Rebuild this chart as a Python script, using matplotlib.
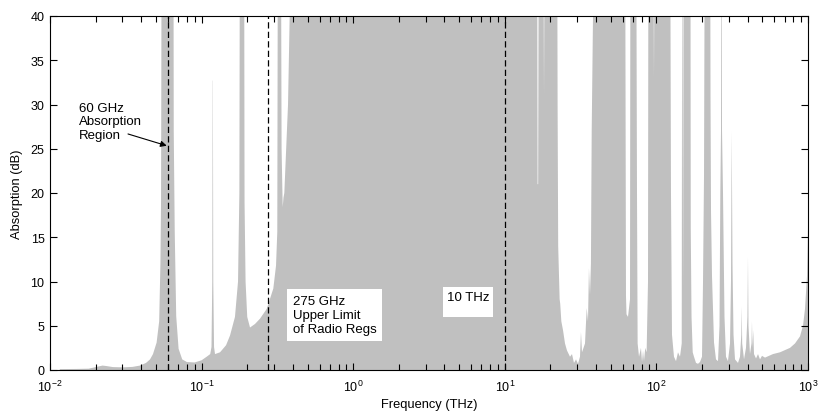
import numpy as np
import matplotlib
matplotlib.use("Agg")
import matplotlib.pyplot as plt

# ---------------- data (frequency in THz, absorption in dB; 60 = off-scale) ----------------
mmwave_freq = [0.0116, 0.015, 0.018, 0.0203, 0.0222, 0.0235, 0.026, 0.0303, 0.035, 0.0392,
               0.043, 0.0457, 0.0478, 0.0505, 0.0525, 0.0535, 0.054, 0.0542, 0.0546,
               0.0651, 0.0655, 0.0665, 0.068, 0.0705, 0.0745, 0.080, 0.090, 0.100, 0.108,
               0.114, 0.1162, 0.1176, 0.1183, 0.1187, 0.1194, 0.1208, 0.1226, 0.1323, 0.145, 0.154,
               0.166, 0.1739, 0.1775, 0.1792, 0.1905, 0.192, 0.195, 0.200, 0.2086, 0.225,
               0.2428, 0.2688, 0.2972, 0.3097, 0.3157, 0.3192, 0.3326, 0.337, 0.3428, 0.347,
               0.3513, 0.3716, 0.4009]
mmwave_db = [0.1, 0.12, 0.15, 0.35, 0.5, 0.45, 0.33, 0.3, 0.35, 0.5,
             0.8, 1.2, 1.8, 3.1, 5.5, 12, 19, 30, 60,
             60, 27, 15.6, 6.1, 2.4, 1.2, 0.9, 0.85, 1.1, 1.5,
             1.8, 2.6, 10, 32.7, 32.7, 10, 2.6, 1.8, 2.0, 2.8, 3.9,
             6.0, 10, 20, 60, 60, 19, 10, 6.0, 4.8, 5.2,
             5.8, 6.9, 9.2, 11.8, 15.6, 60, 60, 25, 18.4, 19.5,
             20, 30, 60]

ir_freq = [16.2, 16.31, 16.45, 16.6, 16.8, 17.9, 18.14, 18.4,
           21.76, 22.10, 22.3, 22.5, 23.0, 23.2, 23.6, 24.21, 24.95, 25.72, 26.92, 27.75,
           28.6, 29.5, 30.4, 31.33, 31.8, 32.3, 33.81, 34.7, 35.38, 35.9, 36.48, 37.0,
           37.43, 38.18, 38.8]
ir_db = [60, 60, 21, 21, 60, 60, 31, 60,
         60, 60, 30, 14, 8, 7.5, 5.5, 4.5, 3.0, 2.2, 1.5, 1.8,
         0.8, 1.2, 0.7, 1.5, 4.3, 2.0, 3.0, 7.0, 5.5, 11.5, 8.5, 12,
         27, 40, 60]

fir_freq = [62.07, 63.0, 63.5, 64.96, 66.98, 67.5, 73.36, 74.48, 75.2, 76.8, 79.1, 80.4,
            81.6, 82.84, 84.4, 86.2, 88.03, 88.7, 94.97, 96.4, 97.8,
            122.9, 124.8, 126.7, 130.6, 134.7, 138.8, 143.1, 146.9, 148.2, 150.0, 151.5,
            167.5, 168.5, 170.5, 173.6, 177.0, 182.5, 188.1, 193.9, 199.9]
fir_db = [60, 8.4, 6.3, 6.0, 8.0, 60, 60, 20, 3.0, 1.5, 2.5, 0.9,
          2.2, 1.0, 2.5, 2.0, 10, 60, 60, 33, 60,
          60, 20, 4.0, 1.5, 1.0, 2.0, 1.5, 3.0, 60, 9, 60,
          60, 16, 6, 2.0, 1.5, 0.8, 0.7, 0.9, 1.5]

sub_freq = [203.0, 206.1, 209.3, 225.7, 227.5, 229.2, 232.7, 239.9, 247.2, 254.9,
            260.8, 264.0, 266.8, 268.8, 270.9, 275.0, 281.3, 287.8, 296.6, 305.9,
            310.5, 313.8, 317.7, 322.6, 330.0, 345.3, 356.0, 363.1, 365.4, 368.1,
            378.4, 389.9, 398.7, 401.9, 405.0, 414.3, 424.0, 427.0, 430.5, 435.1,
            440.4, 454.0, 468.0, 482.4, 497.3, 520.5, 587.6, 653.6, 760.8, 820.8,
            885.6, 926.8, 955.4, 984.9, 1000.0]
sub_db = [10, 22, 60, 60, 31, 18, 10.6, 3.1, 1.2, 1.0,
          5, 20, 27, 60, 27, 20, 6, 1.5, 1.0, 3,
          10, 27, 12, 4, 1.2, 0.8, 1.5, 4, 7.2, 3,
          1.2, 2.5, 6, 12.8, 5, 1.8, 3, 5.5, 2.5, 4.5,
          1.8, 1.3, 1.8, 1.2, 1.6, 1.4, 1.8, 2.0, 2.5, 3.0,
          3.8, 5.0, 6.9, 10.6, 16]

marker_freqs = [0.06, 0.275, 10.0]
xtick_vals = [1e-2, 1e-1, 1e0, 1e1, 1e2, 1e3]
xtick_labels = [r"$10^{-2}$", r"$10^{-1}$", r"$10^{0}$", r"$10^{1}$", r"$10^{2}$", r"$10^{3}$"]
ytick_vals = [0, 5, 10, 15, 20, 25, 30, 35, 40]

freq = np.array(mmwave_freq + ir_freq + fir_freq + sub_freq)
absorption = np.array(mmwave_db + ir_db + fir_db + sub_db)

# ---------------- figure ----------------
plt.rcParams['font.family'] = ['Liberation Sans', 'DejaVu Sans']
plt.rcParams['mathtext.default'] = 'regular'

fig = plt.figure(figsize=(8.25, 4.14), dpi=100)
ax = fig.add_axes([50 / 825, 1 - 371 / 414, 758 / 825, 354 / 414])

ax.fill_between(freq, 0, absorption, color='#c0c0c0', linewidth=0)

for f in marker_freqs:
    ax.axvline(f, color='black', lw=0.9, ls=(0, (5, 2.6)), zorder=3)

ax.set_xscale('log')
ax.set_xlim(1e-2, 1e3)
ax.set_ylim(0, 40)
ax.set_xticks(xtick_vals)
ax.set_xticklabels(xtick_labels, fontsize=9)
ax.set_yticks(ytick_vals)
ax.set_yticklabels([str(v) for v in ytick_vals], fontsize=9)
ax.tick_params(which='both', direction='in', top=True, right=True, color='black')
ax.tick_params(which='major', length=5, width=0.8)
ax.tick_params(axis='x', which='major', pad=6)
ax.tick_params(axis='y', which='major', pad=4)
ax.tick_params(which='minor', length=4, width=0.8)
ax.xaxis.set_minor_locator(matplotlib.ticker.LogLocator(base=10, subs=np.arange(2, 10), numticks=20))
ax.xaxis.set_minor_formatter(matplotlib.ticker.NullFormatter())
for s in ax.spines.values():
    s.set_linewidth(0.8)
    s.set_color('black')

ax.set_xlabel('Frequency (THz)', fontsize=9.3, labelpad=3)
ax.set_ylabel('Absorption (dB)', fontsize=9.3, labelpad=5)

ax.text(0.0156, 28.1, '60 GHz\nAbsorption\nRegion', fontsize=9.5, va='center', ha='left',
        linespacing=1.2)
ax.annotate('', xy=(0.0589, 25.34), xytext=(0.0327, 26.67),
            arrowprops=dict(arrowstyle='-|>', color='black', lw=0.8,
                            mutation_scale=9, shrinkA=0, shrinkB=0), zorder=4)

ax.text(0.399, 6.2, '275 GHz\nUpper Limit\nof Radio Regs', fontsize=9.5, va='center', ha='left',
        linespacing=1.25, zorder=5,
        bbox=dict(boxstyle='square,pad=0.45', facecolor='white', edgecolor='none'))
ax.text(4.14, 7.7, '10 THz\n ', fontsize=9.5, va='center', ha='left', zorder=5,
        linespacing=0.75,
        bbox=dict(boxstyle='square,pad=0.3', facecolor='white', edgecolor='none'))

fig.savefig('out.png', dpi=100)
